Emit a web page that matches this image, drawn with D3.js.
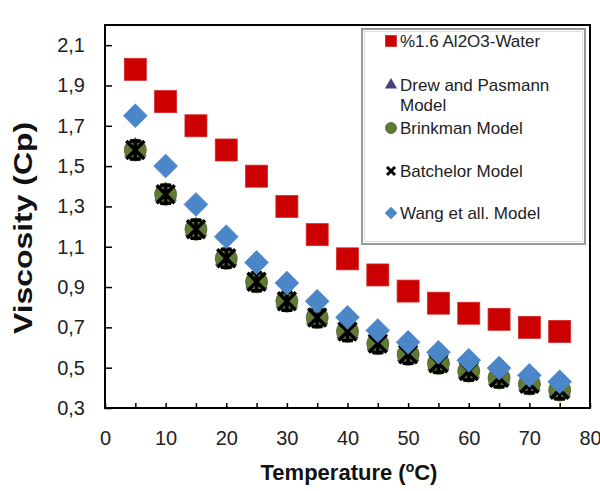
<!DOCTYPE html>
<html><head><meta charset="utf-8">
<script src="https://cdn.jsdelivr.net/npm/d3@7/dist/d3.min.js"></script>
<style>body{margin:0;background:#fff}svg{display:block;font-family:"Liberation Sans",Arial,sans-serif}</style>
</head><body><svg id="c" width="600" height="491"></svg>
<script>
const temps = [5,10,15,20,25,30,35,40,45,50,55,60,65,70,75];
const experimental = [1.98,1.82,1.70,1.58,1.45,1.30,1.16,1.04,0.96,0.88,0.82,0.77,0.74,0.70,0.68];
const drewPasmann = [1.58,1.36,1.185,1.04,0.925,0.83,0.748,0.678,0.618,0.565,0.52,0.482,0.448,0.418,0.388];
const brinkman    = [1.58,1.36,1.187,1.042,0.926,0.83,0.749,0.68,0.619,0.566,0.521,0.483,0.449,0.419,0.389];
const batchelor   = [1.58,1.36,1.187,1.043,0.926,0.83,0.749,0.68,0.62,0.567,0.522,0.484,0.45,0.42,0.39];
const wang        = [1.75,1.50,1.31,1.15,1.022,0.92,0.83,0.75,0.685,0.626,0.577,0.537,0.498,0.462,0.43];
const yTicks = [0.3,0.5,0.7,0.9,1.1,1.3,1.5,1.7,1.9,2.1];
const xTicks = [0,5,10,15,20,25,30,35,40,45,50,55,60,65,70,75,80];
const legendLabels = [["%1.6 Al2O3-Water"],["Drew and Pasmann","Model"],["Brinkman Model"],["Batchelor Model"],["Wang et all. Model"]];

const svg = d3.select("#c");
const x = d3.scaleLinear().domain([0,80]).range([105,590]);
const y = d3.scaleLinear().domain([0.3,2.2]).range([408,25]);

// frame
svg.append("rect").attr("x",105).attr("y",25).attr("width",485).attr("height",383)
  .attr("fill","none").attr("stroke","#000").attr("stroke-width",2);

// axes
const fmt = d => d3.format(".1f")(d).replace(".",",");
const ya = svg.append("g").attr("transform","translate(105,0)")
  .call(d3.axisLeft(y).tickValues(yTicks).tickSize(-7).tickPadding(20).tickFormat(fmt));
ya.select(".domain").remove();
ya.selectAll("line").attr("stroke","#000").attr("stroke-width",1.5);
ya.selectAll("text").attr("font-size",20).attr("fill","#222");

const xa = svg.append("g").attr("transform","translate(0,408)")
  .call(d3.axisBottom(x).tickValues(xTicks).tickSize(-5).tickPadding(23).tickFormat(d => d%10===0 ? d : ""));
xa.select(".domain").remove();
xa.selectAll("line").attr("stroke","#000").attr("stroke-width",1.5);
xa.selectAll("text").attr("font-size",20).attr("fill","#222");

// axis titles
svg.append("text").attr("transform","translate(32,228) rotate(-90)").attr("text-anchor","middle")
  .attr("font-weight","bold").attr("font-size",25).attr("fill","#111")
  .attr("textLength",212).attr("lengthAdjust","spacingAndGlyphs").text("Viscosity (Cp)");
const xt = svg.append("text").attr("x",349).attr("y",480).attr("text-anchor","middle")
  .attr("font-weight","bold").attr("font-size",22).attr("fill","#111");
xt.append("tspan").text("Temperature (");
xt.append("tspan").attr("font-size",14).attr("dy",-8).text("o");
xt.append("tspan").attr("dy",8).text("C)");

// marker drawers
function square(g,s){g.append("rect").attr("x",-s/2).attr("y",-s/2).attr("width",s).attr("height",s).attr("fill","#cc0000").attr("stroke","#d42a2a").attr("stroke-width",0.8);}
function tri(g,s){g.append("path").attr("d",d3.symbol(d3.symbolTriangle,s*s*0.45)()).attr("fill","#4a3f7a");}
function circ(g,s){g.append("circle").attr("r",s/2).attr("fill","#617a33").attr("stroke","#4d6127").attr("stroke-width",0.8);}
function cross(g,s,w,full){const h=s/2;let p=`M${-h},${-h}L${h},${h}M${h},${-h}L${-h},${h}`;
  if(full) p+=`M0,${-h}L0,${h}M${-h*0.6},${-h}L${h*0.6},${-h}M${-h*0.6},${h}L${h*0.6},${h}`;
  g.append("path").attr("d",p).attr("stroke","#000").attr("stroke-width",w).attr("fill","none");}
function diamond(g,s){const h=s/2;g.append("path").attr("d",`M0,${-h}L${h},0L0,${h}L${-h},0Z`).attr("fill","#4a86c8").attr("stroke","#5b8fcc").attr("stroke-width",0.6);}

const series = [
  {vals:experimental, draw:(g)=>square(g,22)},
  {vals:drewPasmann, draw:(g)=>tri(g,22)},
  {vals:brinkman, draw:(g)=>circ(g,22)},
  {vals:batchelor, draw:(g)=>cross(g,18,3.5,true)},
  {vals:wang, draw:(g)=>diamond(g,24)}
];
series.forEach(s=>{
  svg.append("g").selectAll("g").data(temps.map((t,i)=>[t,s.vals[i]])).join("g")
    .attr("transform",d=>`translate(${x(d[0])},${y(d[1])})`)
    .each(function(){s.draw(d3.select(this));});
});

// legend
const lg = svg.append("g");
lg.append("rect").attr("x",362).attr("y",29).attr("width",223).attr("height",215)
  .attr("fill","#fff").attr("stroke","#999").attr("stroke-width",2);
lg.append("rect").attr("x",364.5).attr("y",31.5).attr("width",218).attr("height",210)
  .attr("fill","none").attr("stroke","#ddd").attr("stroke-width",1);
const rowsY = [41,85,128,171,213];
const legDraw = [(g)=>square(g,11),(g)=>tri(g,12),(g)=>circ(g,11),(g)=>cross(g,8,3,false),(g)=>diamond(g,12)];
rowsY.forEach((ry,i)=>{
  const g = lg.append("g").attr("transform",`translate(391,${ry})`);
  legDraw[i](g);
  legendLabels[i].forEach((line,j)=>{
    lg.append("text").attr("x",400).attr("y",ry+j*20).attr("dy","0.35em")
      .attr("font-size",17).attr("fill","#222").text(line);
  });
});
</script></body></html>
